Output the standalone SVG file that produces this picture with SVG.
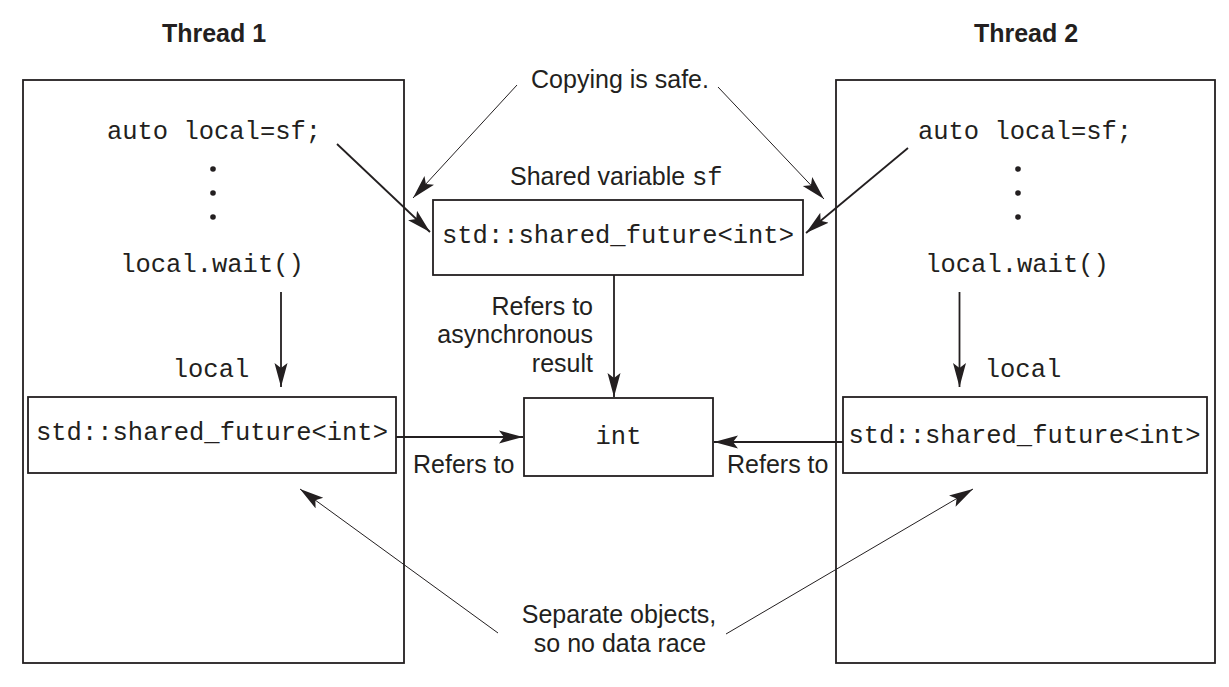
<svg xmlns="http://www.w3.org/2000/svg" width="1229" height="687" viewBox="0 0 1229 687">
<style>
.box{fill:none;stroke:#231f20;stroke-width:1.8}
.mono{font-family:"Liberation Mono",monospace;font-size:25.5px;fill:#231f20}
.sans{font-family:"Liberation Sans",Arial,sans-serif;font-size:25px;fill:#231f20}
.title{font-family:"Liberation Sans",Arial,sans-serif;font-size:25px;font-weight:bold;fill:#231f20}
.c{text-anchor:middle}
.e{text-anchor:end}
.thick{stroke:#231f20;stroke-width:1.8;fill:none;marker-end:url(#ah)}
.thin{stroke:#231f20;stroke-width:1;fill:none;marker-end:url(#ah)}
</style>
<defs>
<marker id="ah" markerUnits="userSpaceOnUse" markerWidth="26" markerHeight="15" refX="24" refY="7" orient="auto" viewBox="0 0 26 15">
<path d="M0,0.5 L24,7 L0,13.5 L5,7 z" fill="#231f20"/>
</marker>
</defs>
<rect width="1229" height="687" fill="#ffffff"/>
<g id="thread1">
<text class="title c" x="214" y="42">Thread 1</text>
<rect class="box" x="23" y="80" width="381" height="583"/>
<text class="mono c" x="214" y="139">auto local=sf;</text>
<circle cx="213" cy="169" r="2.8" fill="#231f20"/>
<circle cx="213" cy="193" r="2.8" fill="#231f20"/>
<circle cx="213" cy="217" r="2.8" fill="#231f20"/>
<text class="mono c" x="212" y="272">local.wait()</text>
<text class="mono c" x="211" y="377">local</text>
</g>
<g id="local1">
<rect class="box" x="28" y="397" width="368" height="76"/>
<text class="mono c" x="212" y="440">std::shared_future&lt;int&gt;</text>
</g>
<g id="thread2">
<text class="title c" x="1026" y="42">Thread 2</text>
<rect class="box" x="836" y="80" width="379" height="583"/>
<text class="mono c" x="1025" y="139">auto local=sf;</text>
<circle cx="1018" cy="169" r="2.8" fill="#231f20"/>
<circle cx="1018" cy="193" r="2.8" fill="#231f20"/>
<circle cx="1018" cy="217" r="2.8" fill="#231f20"/>
<text class="mono c" x="1017" y="272">local.wait()</text>
<text class="mono c" x="1023" y="377">local</text>
</g>
<g id="local2">
<rect class="box" x="843" y="397" width="364" height="76"/>
<text class="mono c" x="1024.5" y="443">std::shared_future&lt;int&gt;</text>
</g>
<g id="shared">
<text class="sans" x="510" y="185">Shared variable <tspan class="mono">sf</tspan></text>
<rect class="box" x="433" y="200" width="370" height="75"/>
<text class="mono c" x="618" y="243">std::shared_future&lt;int&gt;</text>
</g>
<g id="int">
<rect class="box" x="524" y="398" width="189" height="78"/>
<text class="mono c" x="618.5" y="444">int</text>
</g>
<g id="labels">
<text class="sans c" x="620" y="88">Copying is safe.</text>
<text class="sans e" x="593" y="315">Refers to</text>
<text class="sans e" x="593" y="343">asynchronous</text>
<text class="sans e" x="593" y="372">result</text>
<text class="sans" x="413" y="473">Refers to</text>
<text class="sans" x="727" y="473">Refers to</text>
<text class="sans c" x="619" y="623">Separate objects,</text>
<text class="sans c" x="620" y="652">so no data race</text>
</g>
<g id="connectors">
<line class="thick" x1="337" y1="144" x2="430" y2="232"/>
<line class="thick" x1="908" y1="148" x2="806" y2="233"/>
<line class="thin" x1="517" y1="85" x2="413" y2="198"/>
<line class="thin" x1="718" y1="87" x2="824" y2="199"/>
<line class="thick" x1="281" y1="292" x2="281" y2="387"/>
<line class="thick" x1="959.5" y1="292" x2="959.5" y2="387"/>
<line class="thick" x1="614" y1="275" x2="614" y2="397"/>
<line class="thick" x1="396" y1="437" x2="523" y2="437"/>
<line class="thick" x1="843" y1="442" x2="714" y2="442"/>
<line class="thin" x1="498" y1="633" x2="300" y2="489"/>
<line class="thin" x1="726" y1="634" x2="973" y2="489"/>
</g>
</svg>
